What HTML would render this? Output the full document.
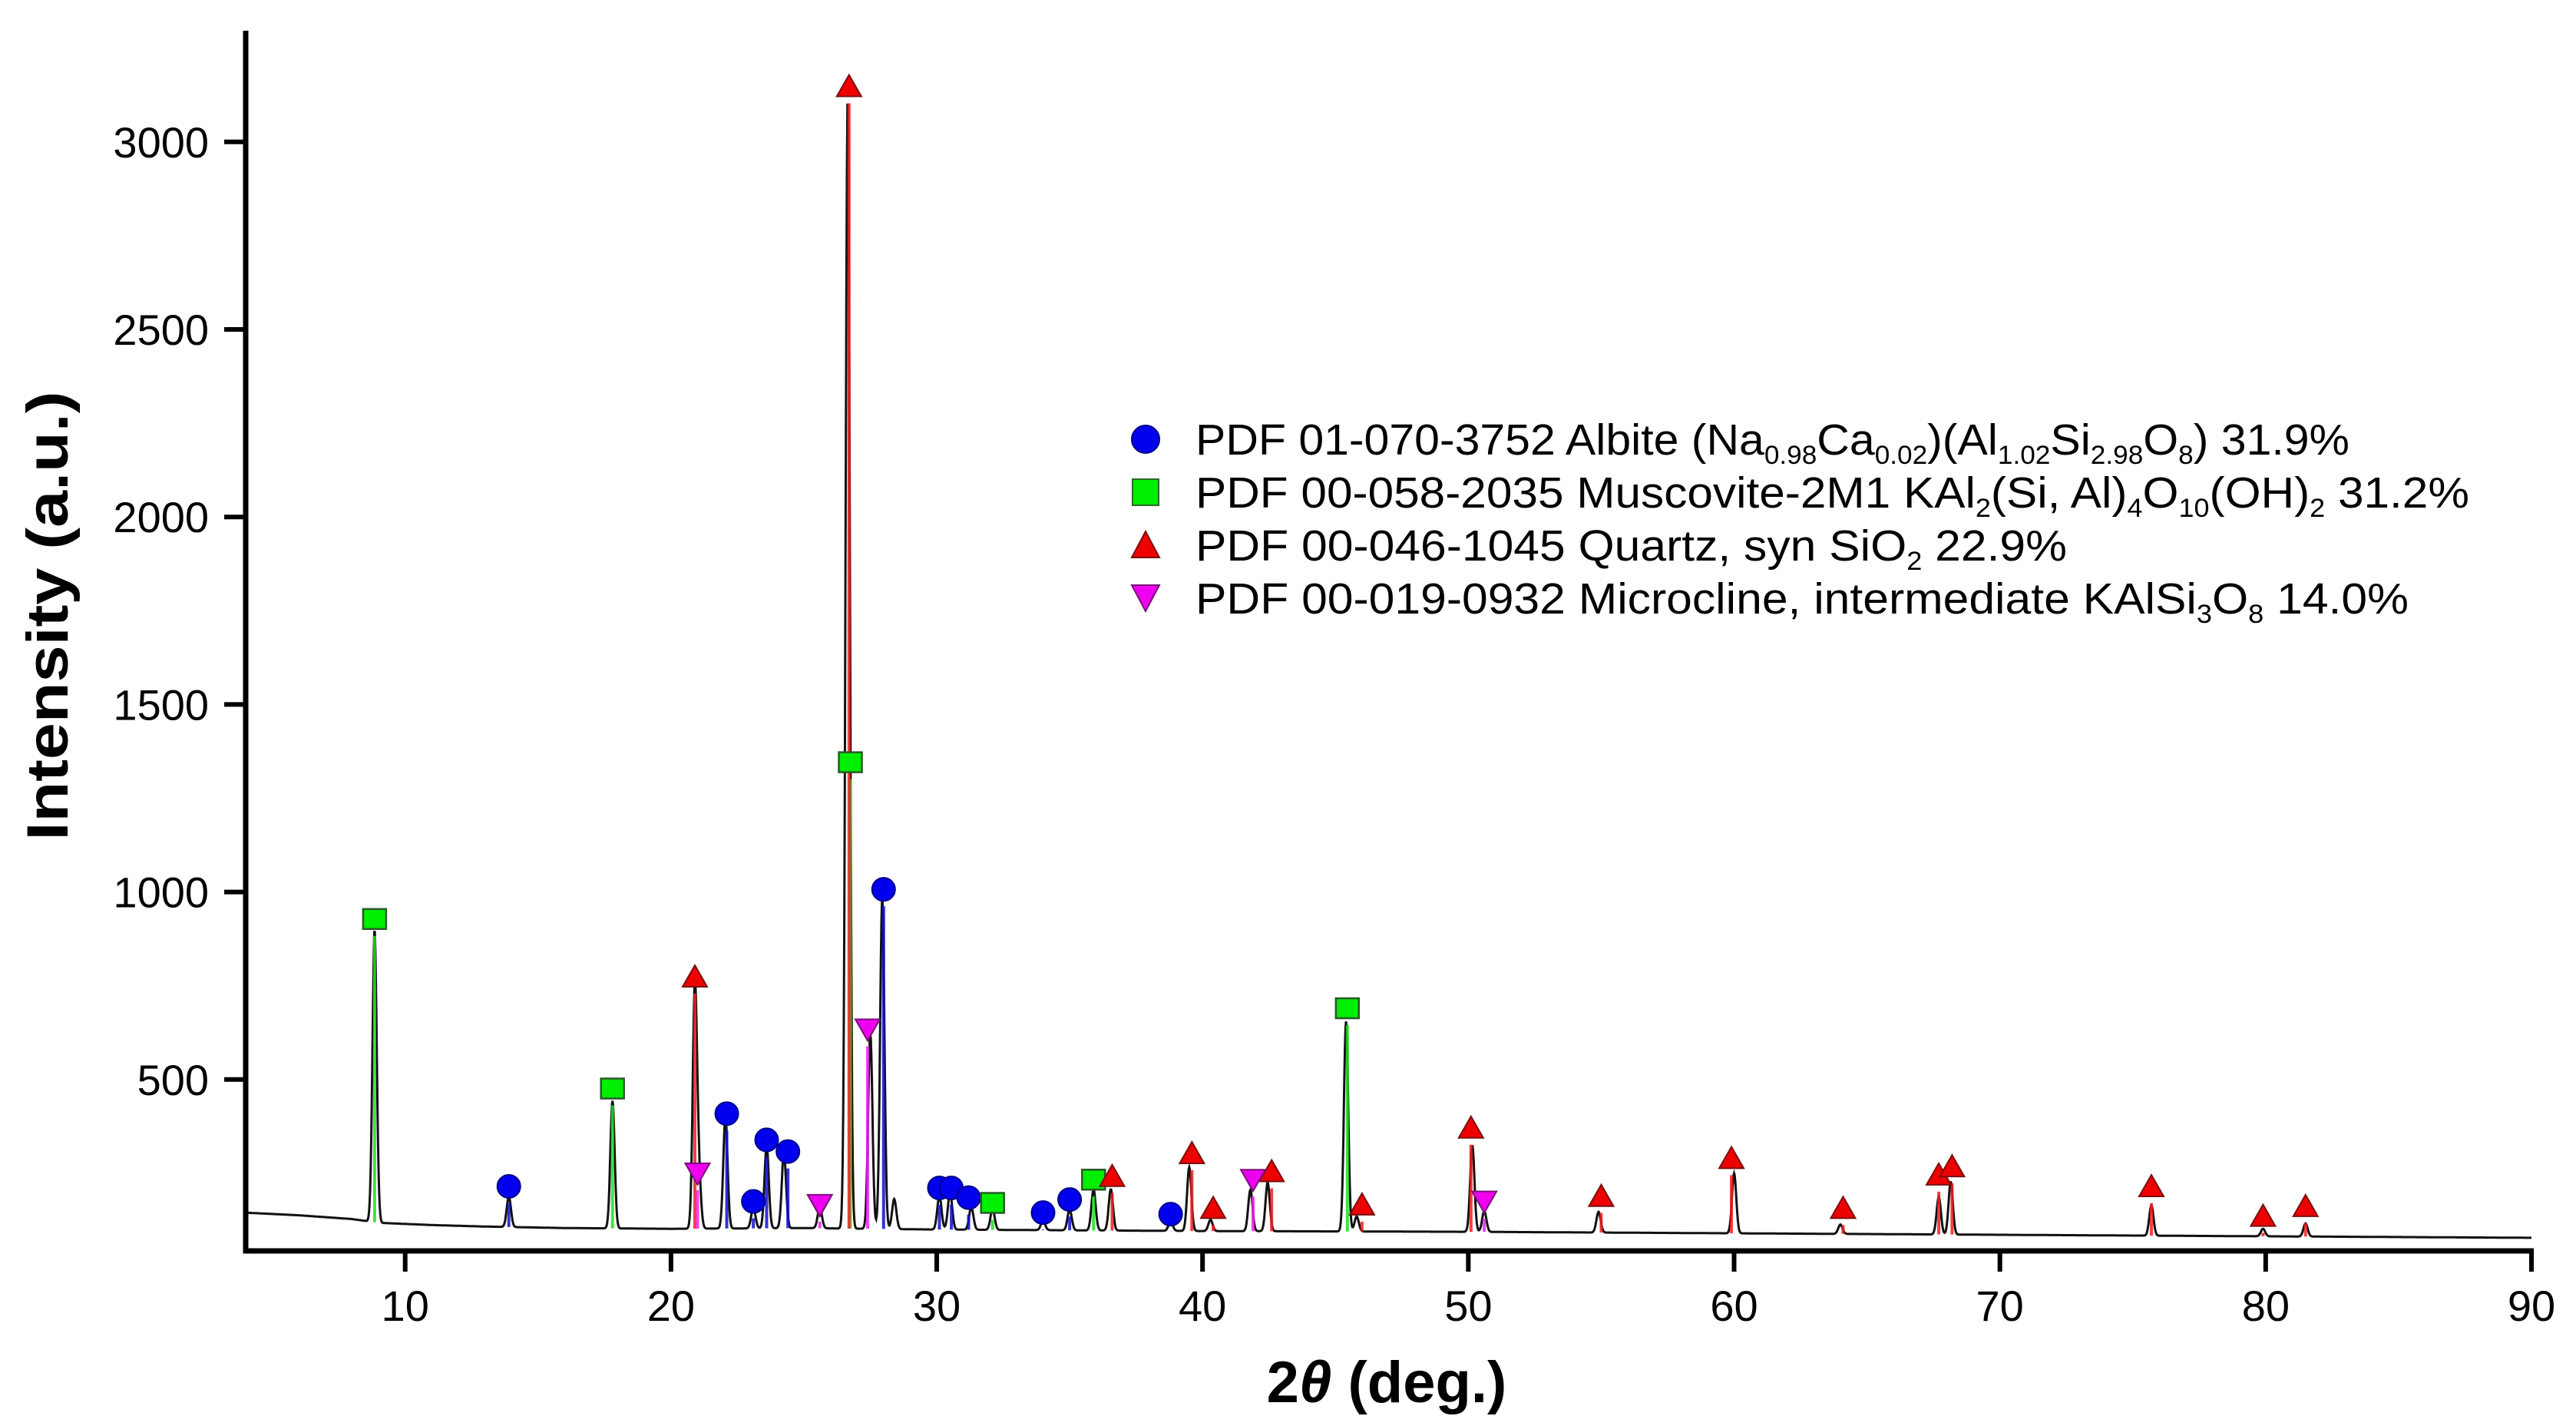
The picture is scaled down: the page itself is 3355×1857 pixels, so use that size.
<!DOCTYPE html>
<html><head><meta charset="utf-8"><style>
html,body{margin:0;padding:0;background:#fff;}
svg{display:block;font-family:"Liberation Sans",Arial,sans-serif;}
</style></head><body>
<svg id="chart" width="3355" height="1857" viewBox="0 0 3355 1857" xmlns="http://www.w3.org/2000/svg">
<rect x="0" y="0" width="3355" height="1857" fill="#fff"/>
<g id="plot"></g>
<g id="axes"></g>
<g id="legend">
  <circle cx="1492" cy="572" r="18" fill="#0000ee" stroke="#00008b" stroke-width="2"/>
  <text x="1557" y="592" font-size="57" textLength="1503" lengthAdjust="spacingAndGlyphs">PDF 01-070-3752 Albite (Na<tspan font-size="34" dy="12">0.98</tspan><tspan dy="-12">Ca</tspan><tspan font-size="34" dy="12">0.02</tspan><tspan dy="-12">)(Al</tspan><tspan font-size="34" dy="12">1.02</tspan><tspan dy="-12">Si</tspan><tspan font-size="34" dy="12">2.98</tspan><tspan dy="-12">O</tspan><tspan font-size="34" dy="12">8</tspan><tspan dy="-12">) 31.9%</tspan></text>
  <rect x="1475" y="624" width="34" height="34" fill="#00ee00" stroke="#2a6a2a" stroke-width="2"/>
  <text x="1557" y="661" font-size="57" textLength="1659" lengthAdjust="spacingAndGlyphs">PDF 00-058-2035 Muscovite-2M1 KAl<tspan font-size="34" dy="12">2</tspan><tspan dy="-12">(Si, Al)</tspan><tspan font-size="34" dy="12">4</tspan><tspan dy="-12">O</tspan><tspan font-size="34" dy="12">10</tspan><tspan dy="-12">(OH)</tspan><tspan font-size="34" dy="12">2</tspan><tspan dy="-12"> 31.2%</tspan></text>
  <polygon points="1492,692 1474,726 1510,726" fill="#ee0000" stroke="#7a1010" stroke-width="2"/>
  <text x="1557" y="730" font-size="57" textLength="1135" lengthAdjust="spacingAndGlyphs">PDF 00-046-1045 Quartz, syn SiO<tspan font-size="34" dy="12">2</tspan><tspan dy="-12"> 22.9%</tspan></text>
  <polygon points="1474,762 1510,762 1492,796" fill="#ee00ee" stroke="#7a107a" stroke-width="2"/>
  <text x="1557" y="799" font-size="57" textLength="1580" lengthAdjust="spacingAndGlyphs">PDF 00-019-0932 Microcline, intermediate KAlSi<tspan font-size="34" dy="12">3</tspan><tspan dy="-12">O</tspan><tspan font-size="34" dy="12">8</tspan><tspan dy="-12"> 14.0%</tspan></text>
</g>
<text x="0" y="0" transform="translate(88,802) rotate(-90)" text-anchor="middle" font-size="76" font-weight="bold" textLength="585" lengthAdjust="spacingAndGlyphs">Intensity (a.u.)</text>
<text x="1806" y="1826" text-anchor="middle" font-size="76" font-weight="bold"><tspan>2</tspan><tspan font-style="italic">θ</tspan><tspan> (deg.)</tspan></text>
</svg>
<script>
// ---- data ----
const xTicks = [10,20,30,40,50,60,70,80,90];
const yTicks = [500,1000,1500,2000,2500,3000];
// background (2θ, counts)
const bgPos = [4, 6, 8, 9, 11, 13, 16, 20, 25, 30, 40, 50, 60, 70, 80, 90];
const bgVal = [145, 138, 128, 118, 112, 108, 104, 102, 104, 100, 96, 94, 90, 86, 82, 78];
// observed peaks (2θ, net height)
const peakPos = [8.85,13.9,17.8,20.9,21.05,22.05,23.1,23.6,24.25,25.6,26.65,27.5,27.95,28.4,30.1,30.5,31.3,32.1,34.0,35.0,35.9,36.55,38.8,39.5,40.3,41.8,42.45,45.4,45.8,50.15,50.6,54.9,60.0,64.0,67.7,68.15,75.7,79.9,81.5];
const peakVal = [780,80,340,640,130,300,55,220,200,55,3020,520,880,80,90,100,60,55,25,55,110,110,25,170,30,110,130,560,40,230,55,55,160,25,100,140,80,20,35];
// phase reference markers (2θ, marker level)
const albitePos = [13.9,22.1,23.1,23.6,24.4,28.0,30.1,30.55,31.2,34.0,35.0,38.8];
const albiteVal = [215,409,175,339,308,1007,211,211,185,145,180,141];
const muscPos = [8.85,17.8,26.75,32.1,35.9,45.45];
const muscVal = [928,476,1346,171,233,690];
const quartzPos = [20.9,26.7,36.6,39.6,40.4,42.6,46.0,50.1,55.0,59.9,64.1,67.7,68.2,75.7,79.9,81.5];
const quartzVal = [774,3148,242,303,157,255,166,371,189,290,157,246,268,215,136,162];
const microPos = [21.0,25.6,27.4,41.9,50.6];
const microVal = [250,166,634,233,175];

// ---- scales ----
const X0=320, X1=3297, XMIN=4, XMAX=90;
const Y0=1650, YK=0.4884;
function sx(v){return X0+(v-XMIN)*(X1-X0)/(XMAX-XMIN);}
function sy(v){return Y0-v*YK;}
const NS="http://www.w3.org/2000/svg";
function mk(tag,attrs){const e=document.createElementNS(NS,tag);for(const k in attrs)e.setAttribute(k,attrs[k]);return e;}
const plot=document.getElementById('plot'), axes=document.getElementById('axes');

function bgAt(t){
  for(let i=0;i<bgPos.length-1;i++){ if(t<=bgPos[i+1]){const f=(t-bgPos[i])/(bgPos[i+1]-bgPos[i]);return bgVal[i]+f*(bgVal[i+1]-bgVal[i]);} }
  return bgVal[bgVal.length-1];
}
// observed curve
let d="";
for(let t=XMIN;t<=XMAX+1e-9;t+=0.02){
  let v=bgAt(t);
  for(let i=0;i<peakPos.length;i++){const dx=(t-peakPos[i])/0.08;v+=peakVal[i]*Math.exp(-0.5*dx*dx);}
  d+=(d?"L":"M")+sx(t).toFixed(1)+","+sy(v).toFixed(1);
}
const curve=mk('path',{d:d,fill:'none',stroke:'#111',"stroke-width":3});


plot.appendChild(curve);

function sticks(pos,val,color,name){
  for(let i=0;i<pos.length;i++){
    const l=mk('line',{x1:sx(pos[i]),x2:sx(pos[i]),y1:sy(bgAt(pos[i])),y2:sy(val[i])+22,stroke:color,"stroke-width":4,opacity:0.85});
    
    
    plot.appendChild(l);
  }
}
sticks(muscPos,muscVal,'#22dd22','muscovite');
sticks(albitePos,albiteVal,'#1010cc','albite');
sticks(quartzPos,quartzVal,'#ee2020','quartz');
sticks(microPos,microVal,'#ee22ee','microcline');

for(let i=0;i<albitePos.length;i++){
  const c=mk('circle',{cx:sx(albitePos[i]),cy:sy(albiteVal[i]),r:15,fill:'#0000ee',stroke:'#00008b',"stroke-width":2});
  
  
  plot.appendChild(c);
}
for(let i=0;i<muscPos.length;i++){
  const x=sx(muscPos[i]),y=sy(muscVal[i]);
  const r=mk('rect',{x:x-15,y:y-13,width:30,height:26,fill:'#00ee00',stroke:'#2a5a2a',"stroke-width":2.5});
  
  
  plot.appendChild(r);
}
for(let i=0;i<quartzPos.length;i++){
  const x=sx(quartzPos[i]),y=sy(quartzVal[i]);
  const p=mk('polygon',{points:`${x},${y-15} ${x-16},${y+13} ${x+16},${y+13}`,fill:'#ee0000',stroke:'#7a1010',"stroke-width":2});
  
  
  plot.appendChild(p);
}
for(let i=0;i<microPos.length;i++){
  const x=sx(microPos[i]),y=sy(microVal[i]);
  const p=mk('polygon',{points:`${x-16},${y-13} ${x+16},${y-13} ${x},${y+15}`,fill:'#ee00ee',stroke:'#7a107a',"stroke-width":2});
  
  
  plot.appendChild(p);
}

// axes
const ya=mk('line',{x1:X0,x2:X0,y1:40,y2:1632,stroke:'#000',"stroke-width":7});


axes.appendChild(ya);
const xa=mk('line',{x1:X0-3,x2:X1+3,y1:1629,y2:1629,stroke:'#000',"stroke-width":7});


axes.appendChild(xa);
for(const v of yTicks){
  const y=sy(v);
  const t=mk('line',{x1:292,x2:X0,y1:y,y2:y,stroke:'#000',"stroke-width":6});
  
  
  axes.appendChild(t);
  const l=mk('text',{x:272,y:y+20,"text-anchor":"end","font-size":56});
  
  
  l.textContent=v; axes.appendChild(l);
}
for(const v of xTicks){
  const x=sx(v);
  const t=mk('line',{x1:x,x2:x,y1:1629,y2:1656,stroke:'#000',"stroke-width":6});
  
  
  axes.appendChild(t);
  const l=mk('text',{x:x,y:1720,"text-anchor":"middle","font-size":56});
  
  
  l.textContent=v; axes.appendChild(l);
}
</script>
</body></html>
